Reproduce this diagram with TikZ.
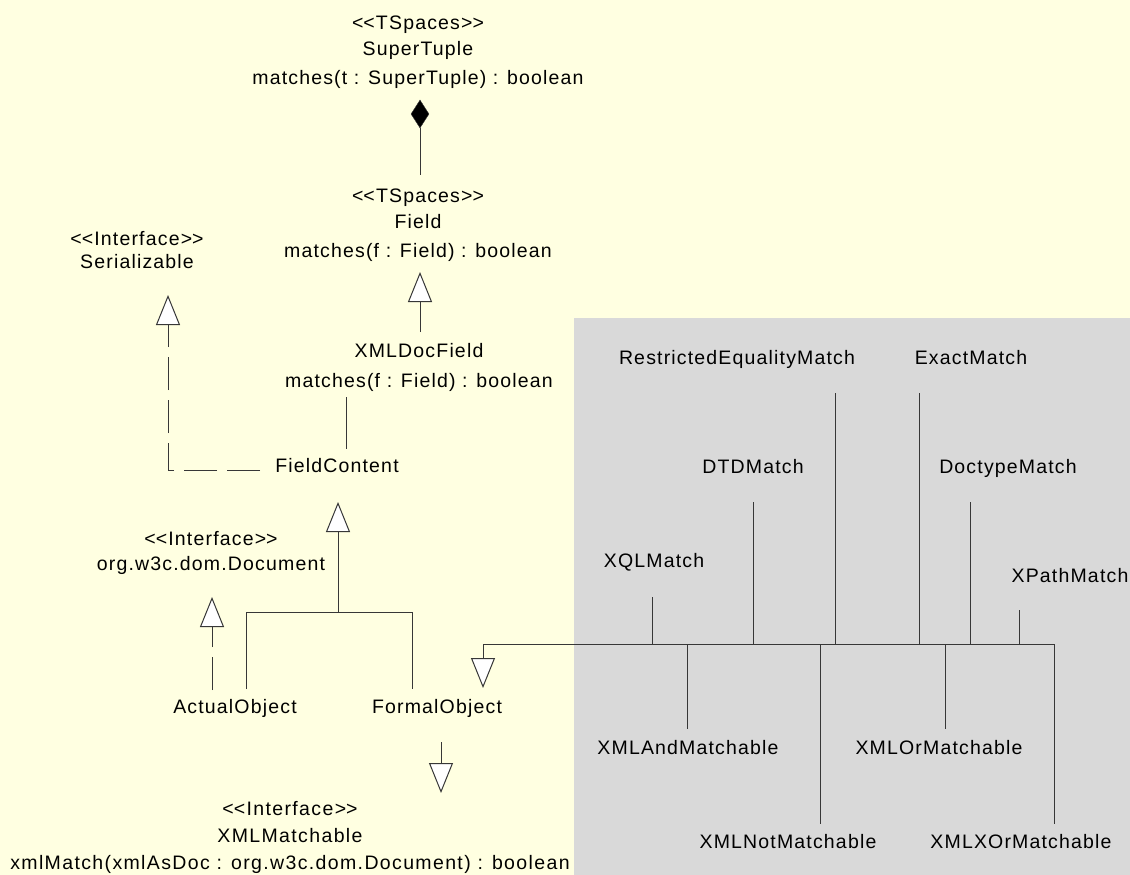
\documentclass[tikz,border=0pt]{standalone}
\usepackage{fontspec}
\setmainfont{Liberation Sans}[LetterSpace=6]
\usetikzlibrary{arrows.meta,shapes.geometric}
\definecolor{bgyellow}{RGB}{255,255,225}
\definecolor{bggray}{RGB}{217,217,217}
\definecolor{linec}{RGB}{55,55,55}
\newcommand{\stL}{<\kern0pt<}
\newcommand{\stR}{>\kern0pt>}
\begin{document}
\begin{tikzpicture}[x=1pt,y=-1pt,
  lbl/.style={inner sep=0pt, anchor=base, font=\fontsize{19.5}{26}\selectfont},
  cls/.style={inner sep=0pt, anchor=north, align=center, font=\fontsize{19.5}{26}\selectfont},
  conn/.style={draw=linec, line width=1pt},
  inh/.style={conn, -{Triangle[length=30pt,width=24pt,fill=white]}},
  real/.style={inh, dash pattern=on 33pt off 10pt},
  ]
\fill[bgyellow] (0,0) rectangle (1130,875);
\fill[bggray] (574,318) rectangle (1130,875);
\useasboundingbox (0,0) rectangle (1130,875);

% class texts
\node[cls] (super) at (418,15.7) {\stL TSpaces\stR\\SuperTuple\\[3pt]matches(t : SuperTuple) : boolean};
\node[cls] (field) at (418,188.7) {\stL TSpaces\stR\\Field\\[3pt]matches(f : Field) : boolean};
\node[cls] (xdf) at (419,342.8) {XMLDocField\\[4pt]matches(f : Field) : boolean};
\node[cls] (ser) at (137,230.8) {\stL Interface\stR\\[-3pt]Serializable};
\node[cls] (doc) at (211,530.8) {\stL Interface\stR\\[-1pt]org.w3c.dom.Document};
\node[cls, font=\fontsize{19.5}{26}\addfontfeatures{LetterSpace=7}\selectfont] (xm) at (290,800.8) {\stL Interface\stR\\[1pt]XMLMatchable\\[1pt]xmlMatch(xmlAsDoc : org.w3c.dom.Document) : boolean};
\node[lbl] (fc) at (337,472) {FieldContent};
\node[lbl] (ao) at (235,713) {ActualObject};
\node[lbl] (fo) at (437,713) {FormalObject};
\node[lbl] (rem) at (737,364) {RestrictedEqualityMatch};
\node[lbl] (em) at (971,364) {ExactMatch};
\node[lbl] (dtd) at (753,473) {DTDMatch};
\node[lbl] (dcm) at (1008,473) {DoctypeMatch};
\node[lbl] (xql) at (654,567) {XQLMatch};
\node[lbl] (xpm) at (1070,582) {XPathMatch};
\node[lbl] (xand) at (688,754) {XMLAndMatchable};
\node[lbl] (xor) at (939,754) {XMLOrMatchable};
\node[lbl] (xnot) at (788,848) {XMLNotMatchable};
\node[lbl] (xxor) at (1021,848) {XMLXOrMatchable};

% composition SuperTuple - Field
\node[draw=linec, fill=black, diamond, minimum width=18pt, minimum height=28pt, inner sep=0pt] (dia) at (420,114) {};
\coordinate (fieldTop) at (420,175);
\draw[conn] (dia.south) -- (fieldTop);

% XMLDocField -> Field
\coordinate (xdfTop) at (420,332);
\coordinate (fieldTip) at (420,272);
\draw[inh] (xdfTop) -- (fieldTip);

% XMLDocField - FieldContent
\coordinate (xdfBot) at (346,397);
\coordinate (fcTop) at (346,449);
\draw[conn] (xdfBot) -- (fcTop);

% FieldContent -> Serializable
\coordinate (fcLeft) at (260,470);
\coordinate (serTip) at (168,295);
\draw[real] (fcLeft) -| (serTip);

% ActualObject/FormalObject -> FieldContent
\coordinate (fcTip) at (338,502);
\coordinate (join) at (338,612);
\coordinate (aoTop) at (246,689);
\coordinate (foTop) at (412,689);
\draw[inh] (join) -- (fcTip);
\draw[conn] (aoTop) -- ++(0,-77) -| (foTop);

% ActualObject -> Document
\coordinate (aoDash) at (212,690);
\coordinate (docTip) at (212,597);
\draw[real] (aoDash) -- (docTip);

% matchers -> FormalObject
\coordinate (busR) at (1054,644);
\coordinate (busL) at (483,644);
\coordinate (foTip) at (483,688);
\draw[inh] (busR) -- (busL) -- (foTip);
\coordinate (xqlB) at (652,597);
\coordinate (dtdB) at (753,502);
\coordinate (remB) at (835,393);
\coordinate (emB) at (919,393);
\coordinate (dcmB) at (970,502);
\coordinate (xpmB) at (1019,610);
\foreach \c in {xqlB,dtdB,remB,emB,dcmB,xpmB}
  \draw[conn] (\c) -- (\c |- busL);
\coordinate (xandT) at (687,729);
\coordinate (xnotT) at (820,824);
\coordinate (xorT) at (945,729);
\coordinate (xxorT) at (1054,824);
\foreach \c in {xandT,xnotT,xorT,xxorT}
  \draw[conn] (\c |- busL) -- (\c);

% FormalObject -> XMLMatchable
\coordinate (foBot) at (441,742);
\coordinate (xmTip) at (441,793);
\draw[inh] (foBot) -- (xmTip);
\end{tikzpicture}
\end{document}
